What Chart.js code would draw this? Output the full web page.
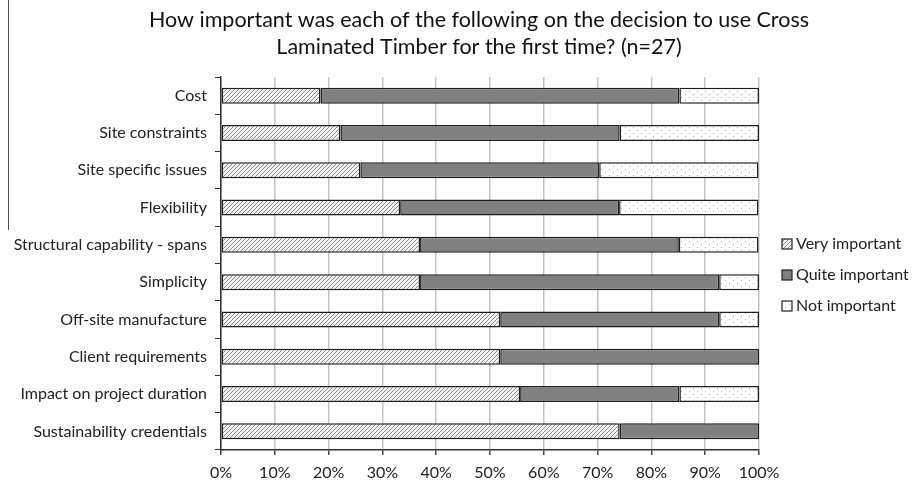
<!DOCTYPE html>
<html>
<head>
<meta charset="utf-8">
<script src="https://cdn.jsdelivr.net/npm/chart.js@4"></script>
<style>
  html, body { margin: 0; padding: 0; background: #fff; }
  #wrap { position: relative; width: 914px; height: 484px; }
  #stray { position: absolute; left: 8px; top: 0; width: 1px; height: 230px; background: #555; }
</style>
</head>
<body>
<div id="wrap">
  <canvas id="c" width="914" height="484"></canvas>
  <div id="stray"></div>
</div>
<script>
const categories = ["Cost", "Site constraints", "Site specific issues", "Flexibility",
  "Structural capability - spans", "Simplicity", "Off-site manufacture",
  "Client requirements", "Impact on project duration", "Sustainability credentials"];
const veryImportant  = [18.5, 22.2, 25.9, 33.3, 37.0, 37.0, 51.9, 51.9, 55.6, 74.1];
const quiteImportant = [66.7, 51.9, 44.4, 40.7, 48.1, 55.6, 40.7, 48.1, 29.6, 25.9];
const notImportant   = [14.8, 25.9, 29.6, 25.9, 14.8,  7.4,  7.4,  0.0, 14.8,  0.0];
const seriesNames = ["Very important", "Quite important", "Not important"];
const titleLines = ["How important was each of the following on the decision to use Cross",
  "Laminated Timber for the first time? (n=27)"];

function hatchPattern() {
  const c = document.createElement('canvas');
  c.width = 4; c.height = 4;
  const g = c.getContext('2d');
  g.fillStyle = '#f4f4f4'; g.fillRect(0, 0, 4, 4);
  g.strokeStyle = '#8a8a8a'; g.lineWidth = 1;
  g.beginPath();
  g.moveTo(0, 4); g.lineTo(4, 0);
  g.moveTo(-1, 1); g.lineTo(1, -1);
  g.moveTo(3, 5); g.lineTo(5, 3);
  g.stroke();
  return g.createPattern(c, 'repeat');
}
function dotPattern() {
  const c = document.createElement('canvas');
  c.width = 8; c.height = 6;
  const g = c.getContext('2d');
  g.fillStyle = '#ffffff'; g.fillRect(0, 0, 8, 6);
  g.fillStyle = '#b0b0b0';
  g.fillRect(1, 1, 1, 1);
  g.fillRect(5, 4, 1, 1);
  return g.createPattern(c, 'repeat');
}

const font = "Lato, 'Open Sans', sans-serif";
const border = '#1e1e1e';
const fills = [hatchPattern(), '#808080', dotPattern()];

const decorPlugin = {
  id: 'decor',
  afterDraw(chart) {
    const ctx = chart.ctx;
    ctx.save();
    // title
    ctx.font = "21.5px " + font;
    ctx.fillStyle = '#111';
    ctx.textAlign = 'center';
    ctx.textBaseline = 'middle';
    ctx.fillText(titleLines[0], 479, 20);
    ctx.fillText(titleLines[1], 479, 47);
    // legend
    ctx.font = "16px " + font;
    ctx.textAlign = 'left';
    const ys = [244, 275, 306];
    chart.data.datasets.forEach((ds, i) => {
      const y = ys[i];
      ctx.fillStyle = ds.backgroundColor;
      ctx.fillRect(782, y - 5, 10, 10);
      ctx.strokeStyle = '#222'; ctx.lineWidth = 1.2;
      ctx.strokeRect(782, y - 5, 10, 10);
      ctx.fillStyle = '#222';
      ctx.fillText(ds.label, 796, y);
    });
    ctx.restore();
  }
};

new Chart(document.getElementById('c'), {
  type: 'bar',
  data: {
    labels: categories,
    datasets: seriesNames.map((n, i) => ({
      label: n,
      data: [veryImportant, quiteImportant, notImportant][i],
      backgroundColor: fills[i], borderColor: border, borderWidth: 1.5, borderSkipped: false,
      barPercentage: 0.86, categoryPercentage: 0.5
    }))
  },
  options: {
    indexAxis: 'y',
    responsive: false,
    animation: false,
    layout: { padding: { left: 0, right: 155, top: 77, bottom: 0 } },
    scales: {
      x: {
        stacked: true, min: 0, max: 100,
        afterFit(scale) { scale.height = 34; },
        ticks: { stepSize: 10, callback: v => v + '%', color: '#222', font: { family: font, size: 16 }, padding: 8 },
        grid: { color: '#c4c4c4', lineWidth: 1.5, tickLength: 5, tickColor: '#444' },
        border: { color: '#333', width: 1.5 }
      },
      y: {
        stacked: true,
        afterFit(scale) { scale.width = 221; },
        ticks: { color: '#222', font: { family: font, size: 16 }, padding: 8 },
        grid: { drawOnChartArea: false, tickLength: 6, tickColor: '#333', offset: true },
        border: { color: '#333', width: 1.5 }
      }
    },
    plugins: {
      title: { display: false },
      legend: { display: false },
      tooltip: { enabled: false }
    }
  },
  plugins: [decorPlugin]
});
</script>
</body>
</html>
